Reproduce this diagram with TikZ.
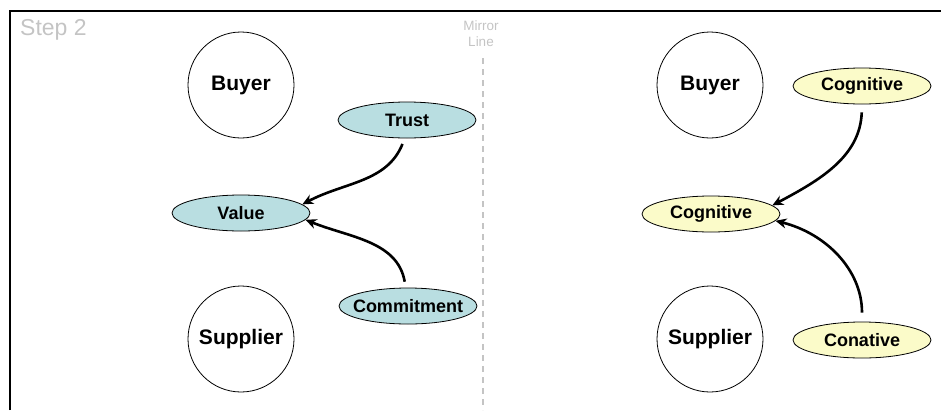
\documentclass[tikz,border=0pt]{standalone}
\usepackage{fontspec}
\setmainfont{Liberation Sans}
\usetikzlibrary{shapes.geometric,arrows.meta}
\definecolor{teal1}{HTML}{B9DEE1}
\definecolor{yel1}{HTML}{FBFBC9}
\definecolor{lgray}{HTML}{C4C4C4}
\tikzset{
  party/.style={circle, draw, line width=0.8pt, minimum size=106pt, inner sep=0pt,
    font=\fontsize{21}{24}\selectfont\bfseries},
  oval/.style={ellipse, draw, line width=0.8pt, minimum width=138pt, minimum height=36pt,
    inner sep=0pt, font=\fontsize{18}{21}\selectfont\bfseries},
  tealoval/.style={oval, fill=teal1},
  yeloval/.style={oval, fill=yel1},
  arr/.style={line width=2.6pt, -{Stealth[length=11pt,width=10pt,inset=3.5pt]}},
  graytext/.style={text=lgray, inner sep=0pt}
}
\begin{document}
\begin{tikzpicture}[x=1pt,y=-1pt]
\useasboundingbox (0,0) rectangle (941,410);
% frame
\draw[line width=2.5pt] (10,410) -- (10,11) -- (941,11);
% labels
\node[graytext, anchor=base west, font=\fontsize{23}{26}\selectfont] (step) at (20,35) {Step 2};
\node[graytext, anchor=base, font=\fontsize{13.5}{16}\selectfont] (mirror) at (481,30) {Mirror};
\node[graytext, anchor=base, font=\fontsize{13.5}{16}\selectfont] (line) at (481,46) {Line};
\coordinate (mtop) at (483,58);
\coordinate (mbot) at (483,410);
\draw[lgray, line width=1.6pt, dash pattern=on 6pt off 5pt] (mtop) -- (mbot);
% left side
\node[party] (buyerL) at (241,85) {Buyer};
\node[party] (supplierL) at (241,339) {Supplier};
\node[tealoval] (trust) at (407,120) {Trust};
\node[tealoval] (value) at (241,213) {Value};
\node[tealoval, inner xsep=-7.5pt] (commit) at (408,306) {Commitment};
% right side
\node[party] (buyerR) at (710,85) {Buyer};
\node[party] (supplierR) at (710,339) {Supplier};
\node[yeloval] (cogA) at (862,86) {Cognitive};
\node[yeloval] (cogB) at (711,214) {Cognitive};
\node[yeloval] (conat) at (862,340) {Conative};
% arrows
\draw[arr, shorten <=6pt] (trust.-97) to[out=-112, in=28] (value.8);
\draw[arr, shorten <=6pt] (commit.97) to[out=100, in=-22] (value.-6);
\draw[arr, shorten <=8pt] (cogA.south) to[out=-92, in=28] (cogB.8);
\draw[arr, shorten <=9pt] (conat.north) to[out=90, in=-14] (cogB.-6);
\end{tikzpicture}
\end{document}
